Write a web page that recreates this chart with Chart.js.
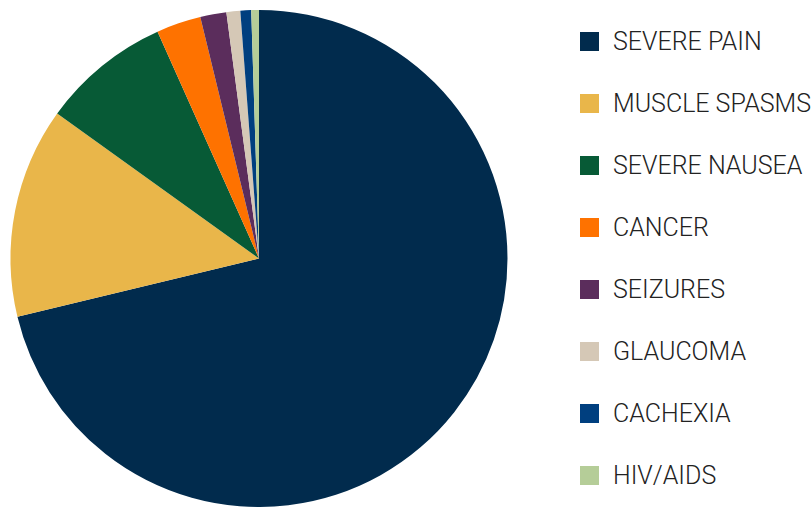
<!DOCTYPE html>
<html>
<head>
<meta charset="utf-8">
<title>Conditions</title>
<script src="https://cdn.jsdelivr.net/npm/chart.js@4/dist/chart.umd.min.js"></script>
<style>
	html, body { margin: 0; padding: 0; background: #fff; overflow: hidden; }
	body { width: 812px; height: 507px; position: relative; }
	#pie { position: absolute; left: 0; top: 0; }
	#legend { position: absolute; left: 580px; top: 10px; margin: 0; padding: 0; list-style: none; }
	#legend li {
		height: 62px; display: flex; align-items: center; white-space: nowrap;
		font-family: Roboto, "Open Sans", sans-serif; font-weight: 300; font-size: 25px; color: #222;
	}
	#legend li span { display: inline-block; width: 19px; height: 19px; margin-right: 14px; flex: none; }
</style>
</head>
<body>
<canvas id="pie" width="508" height="507"></canvas>
<ul id="legend"></ul>
<script>

var conditions = ["SEVERE PAIN", "MUSCLE SPASMS", "SEVERE NAUSEA", "CANCER", "SEIZURES", "GLAUCOMA", "CACHEXIA", "HIV/AIDS"];
var shares = [71.3, 13.7, 8.4, 2.9, 1.7, 0.9, 0.7, 0.5];
var sliceColors = ["#012b4d", "#e9b64a", "#075a36", "#fe7200", "#5b2d5c", "#d5c8b6", "#003f7f", "#b5cd98"];

var ctx = document.getElementById("pie");

// html legend, built from the chart's own legend items
var htmlLegend = {
	id : "htmlLegend",
	afterUpdate : function (chart) {
		var ul = document.getElementById("legend");
		ul.innerHTML = "";
		var items = chart.options.plugins.legend.labels.generateLabels(chart);
		items.forEach(function (item) {
			var li = document.createElement("li");
			var box = document.createElement("span");
			box.style.background = item.fillStyle;
			li.appendChild(box);
			li.appendChild(document.createTextNode(item.text));
			ul.appendChild(li);
		});
	}
};

var data = {
	labels : conditions,
	datasets : [
		{
			label : "Share",
			data : shares,
			backgroundColor : sliceColors,
			borderWidth : 0
		}
	]
};

var options = {
	responsive : false,
	animation : false,
	layout : {
		padding : { top : 10, left : 10, right : 0, bottom : 0 }
	},
	plugins : {
		tooltip : { enabled : false },
		legend : { display : false }
	}
};

var chart = new Chart(ctx, {
	type : "pie",
	data : data,
	options : options,
	plugins : [htmlLegend]
});

</script>
</body>
</html>
